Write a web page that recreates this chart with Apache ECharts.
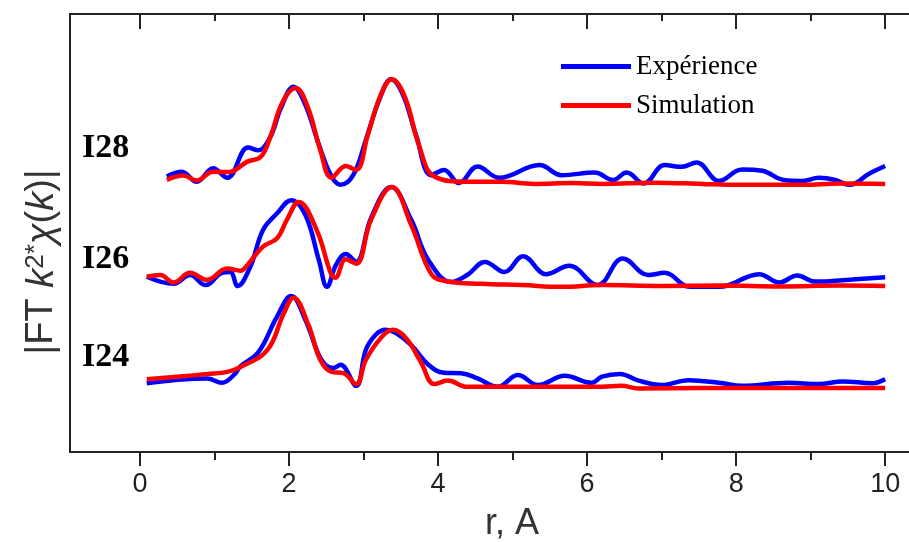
<!DOCTYPE html>
<html>
<head>
<meta charset="utf-8">
<script src="https://cdn.jsdelivr.net/npm/echarts@6/dist/echarts.min.js"></script>
<style>
html,body{margin:0;padding:0;background:#fff;}
#chart{width:909px;height:542px;}
</style>
</head>
<body>
<div id="chart"></div>
<script>
// r (Å) and |FT k2*chi(k)| (arbitrary units, offset per sample)
const i28Exp = [[0.36,6.29],[0.56,6.40],[0.76,6.17],[0.98,6.48],[1.17,6.26],[1.45,6.95],[1.59,6.89],[1.75,7.20],[1.89,7.85],[2.06,8.34],[2.22,7.92],[2.40,7.02],[2.56,6.32],[2.69,6.10],[2.86,6.32],[3.03,7.12],[3.21,8.04],[3.37,8.51],[3.53,8.15],[3.70,7.26],[3.91,6.32],[4.08,6.44],[4.28,6.14],[4.53,6.52],[4.82,6.26],[5.36,6.55],[5.66,6.32],[6.10,6.38],[6.35,6.21],[6.53,6.38],[6.76,6.13],[7.04,6.55],[7.27,6.51],[7.47,6.61],[7.77,6.19],[8.08,6.45],[8.35,6.42],[8.64,6.21],[8.89,6.19],[9.11,6.26],[9.33,6.21],[9.52,6.10],[9.79,6.36],[10.0,6.53]];
const i28Sim = [[0.36,6.21],[0.58,6.31],[0.76,6.20],[0.98,6.40],[1.19,6.39],[1.44,6.63],[1.62,6.74],[1.75,7.20],[1.91,7.98],[2.09,8.31],[2.25,7.88],[2.42,6.89],[2.57,6.26],[2.76,6.53],[2.90,6.44],[3.06,7.26],[3.23,8.15],[3.38,8.51],[3.56,8.08],[3.74,7.02],[3.95,6.29],[4.39,6.17],[4.85,6.17],[5.29,6.12],[5.80,6.14],[6.20,6.12],[6.90,6.15],[7.54,6.12],[7.90,6.10],[8.89,6.10],[9.40,6.13],[10.0,6.12]];
const i26Exp = [[0.09,4.00],[0.45,3.84],[0.67,4.04],[0.88,3.81],[1.10,4.09],[1.21,4.11],[1.31,3.79],[1.48,4.23],[1.65,5.07],[1.84,5.45],[2.03,5.75],[2.22,5.41],[2.40,4.38],[2.51,3.77],[2.63,4.27],[2.76,4.52],[2.90,4.34],[3.10,5.34],[3.37,6.05],[3.64,5.30],[3.87,4.38],[4.18,3.88],[4.39,4.04],[4.63,4.34],[4.89,4.11],[5.14,4.47],[5.45,4.06],[5.76,4.25],[6.14,3.81],[6.48,4.42],[6.82,4.04],[7.04,4.09],[7.38,3.77],[7.77,3.77],[8.31,4.06],[8.58,3.87],[8.82,4.03],[9.06,3.89],[9.56,3.94],[10.0,3.99]];
const i26Sim = [[0.09,4.00],[0.27,4.04],[0.45,3.87],[0.67,4.09],[0.90,3.93],[1.17,4.19],[1.35,4.14],[1.44,4.27],[1.65,4.69],[1.84,4.88],[1.97,5.30],[2.13,5.71],[2.37,5.07],[2.56,4.08],[2.62,3.98],[2.76,4.40],[2.90,4.30],[3.10,5.30],[3.38,6.05],[3.64,5.18],[3.91,4.06],[4.11,3.90],[4.58,3.84],[5.12,3.81],[5.66,3.77],[6.20,3.81],[7.00,3.79],[7.80,3.80],[8.60,3.78],[9.40,3.80],[10.0,3.79]];
const i24Exp = [[0.09,1.57],[0.45,1.64],[0.90,1.68],[1.10,1.58],[1.26,1.76],[1.35,1.96],[1.59,2.28],[1.83,3.06],[2.03,3.56],[2.22,3.01],[2.40,2.21],[2.49,1.99],[2.60,1.92],[2.69,1.99],[2.90,1.51],[3.03,2.33],[3.16,2.67],[3.29,2.79],[3.43,2.72],[3.64,2.44],[3.87,1.99],[4.08,1.81],[4.31,1.80],[4.53,1.68],[4.80,1.49],[5.07,1.76],[5.34,1.53],[5.70,1.74],[6.06,1.58],[6.20,1.72],[6.44,1.78],[6.69,1.63],[7.00,1.53],[7.36,1.64],[7.77,1.58],[8.08,1.51],[8.71,1.58],[9.11,1.55],[9.43,1.61],[9.83,1.57],[10.0,1.66]];
const i24Sim = [[0.09,1.66],[0.45,1.71],[0.90,1.78],[1.17,1.83],[1.35,1.94],[1.71,2.33],[1.93,3.17],[2.06,3.52],[2.26,2.90],[2.42,2.10],[2.57,1.83],[2.73,1.80],[2.90,1.55],[3.03,2.10],[3.23,2.60],[3.39,2.79],[3.57,2.60],[3.77,2.05],[3.95,1.55],[4.13,1.63],[4.39,1.49],[4.85,1.49],[5.29,1.49],[6.20,1.49],[6.46,1.51],[6.69,1.45],[7.54,1.46],[8.89,1.46],[10.0,1.46]];

const sampleLabels = ['I28','I26','I24'];
const majorTicks = [0,2,4,6,8,10];
const minorTicks = [1,3,5,7,9];
const seriesNames = ['Expérience','Simulation'];

const X_MIN = -0.94, X_MAX = 10.32;
const axisColor = '#222';

function xAx(pos, ticks, len, inside, showLine, showLabel){
  return {
    type:'value', position:pos, min:X_MIN, max:X_MAX,
    axisLine:{show:showLine, onZero:false, lineStyle:{color:axisColor,width:2}},
    axisTick:{show:true, inside:inside, length:len, customValues:ticks, lineStyle:{color:axisColor,width:2}},
    axisLabel:{show:showLabel, customValues:ticks, margin:19, fontFamily:'Liberation Sans', fontSize:27, color:'#222'},
    splitLine:{show:false}, minorTick:{show:false}
  };
}

function line(name, data, color){
  return {type:'line', name:name, data:data, xAxisIndex:0, yAxisIndex:0, smooth:0.4, showSymbol:false, symbol:'none',
    lineStyle:{color:color,width:4.5}, itemStyle:{color:color}};
}

const chart = echarts.init(document.getElementById('chart'), null, {renderer:'canvas'});
chart.setOption({
  animation:false,
  backgroundColor:'#fff',
  grid:{left:70, right:0, top:14, bottom:90, containLabel:false},
  xAxis:[
    xAx('bottom', majorTicks, 14, false, true, true),
    xAx('bottom', minorTicks, 8, false, false, false),
    xAx('top', majorTicks, 15, true, true, false),
    xAx('top', minorTicks, 7, true, false, false)
  ],
  yAxis:{type:'value', min:0, max:10,
    axisLine:{show:true, onZero:false, lineStyle:{color:axisColor,width:2}},
    axisTick:{show:false}, axisLabel:{show:false}, splitLine:{show:false}},
  legend:{orient:'vertical', left:556, top:48, itemWidth:70, itemHeight:5, itemGap:12, icon:'rect',
    data:seriesNames,
    textStyle:{fontFamily:'Liberation Serif', fontSize:27, color:'#000'}},
  series:[
    line(seriesNames[0], i28Exp, '#0000ff'), line(seriesNames[1], i28Sim, '#ff0000'),
    line(seriesNames[0], i26Exp, '#0000ff'), line(seriesNames[1], i26Sim, '#ff0000'),
    line(seriesNames[0], i24Exp, '#0000ff'), line(seriesNames[1], i24Sim, '#ff0000')
  ],
  graphic:[
    {type:'text', left:82, top:131, style:{text:sampleLabels[0], font:'bold 34px "Liberation Serif"', fill:'#000'}},
    {type:'text', left:82, top:242, style:{text:sampleLabels[1], font:'bold 34px "Liberation Serif"', fill:'#000'}},
    {type:'text', left:82, top:340, style:{text:sampleLabels[2], font:'bold 34px "Liberation Serif"', fill:'#000'}},
    {type:'text', x:512, y:524, style:{text:'r, A', align:'center', verticalAlign:'middle', font:'36px "Liberation Sans"', fill:'#333'}},
    {type:'text', x:42, y:262, rotation:Math.PI/2,
      style:{text:'|FT {i|k}{sup|2*}{i|χ}({i|k})|', align:'center', verticalAlign:'middle', font:'38px "Liberation Sans"', fill:'#333',
        rich:{i:{fontStyle:'italic', fontFamily:'Liberation Sans', fontSize:38, fill:'#333', color:'#333'},
              sup:{fontFamily:'Liberation Sans', fontSize:26, verticalAlign:'top', fill:'#333', color:'#333'}}}}
  ]
});
</script>
</body>
</html>
